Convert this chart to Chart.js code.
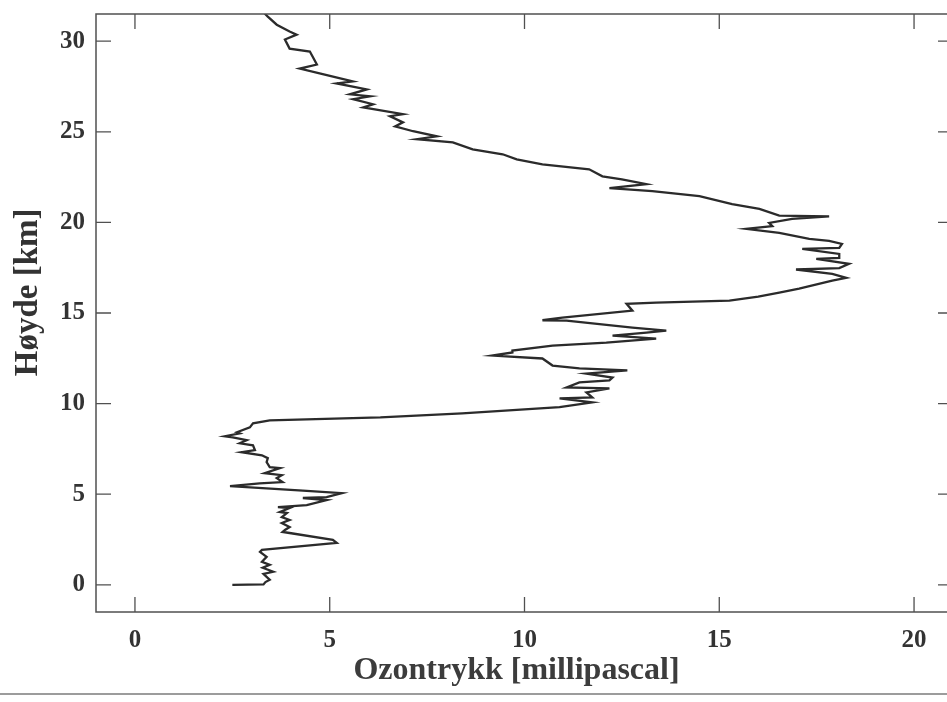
<!DOCTYPE html>
<html>
<head>
<meta charset="utf-8">
<script src="https://cdn.jsdelivr.net/npm/chart.js@4.4.0/dist/chart.umd.min.js"></script>
<style>
	html, body { margin: 0; padding: 0; background: #fff; overflow: hidden; }
	#wrap { position: relative; width: 947px; height: 702px; overflow: hidden; }
	#ozoneChart { position: absolute; left: 0; top: 0; }
	#edge { position: absolute; left: 0; top: 693px; width: 947px; height: 2px; background: #9c9c9c; }
</style>
</head>
<body>
<div id="wrap">
	<canvas id="ozoneChart" width="970" height="702"></canvas>
	<div id="edge"></div>
</div>
<script>
// ozone sounding: altitude (km) and partial pressure (mPa), bottom to top
var altitudeKm = [
	0.00, 0.02, 0.15, 0.28, 0.44, 0.60, 0.72, 0.94, 1.10, 1.27, 1.54, 1.82, 1.93,
	2.31, 2.48, 2.86, 2.92, 3.03, 3.19, 3.41, 3.58, 3.74, 3.96, 4.02, 4.24, 4.29,
	4.40, 4.68, 4.79, 4.84, 5.06, 5.20, 5.45, 5.60, 5.67, 5.89, 6.05, 6.16, 6.44,
	6.49, 6.77, 6.99, 7.15, 7.32, 7.43, 7.70, 7.81, 7.98, 8.14, 8.20, 8.36, 8.42,
	8.69, 8.91, 9.08, 9.24, 9.46, 9.80, 10.07, 10.29, 10.34, 10.62, 10.84, 10.89,
	11.17, 11.28, 11.44, 11.66, 11.83, 11.94, 12.10, 12.49, 12.65, 12.82, 12.93,
	13.20, 13.37, 13.59, 13.75, 13.92, 14.03, 14.19, 14.58, 14.60, 14.74, 15.13,
	15.51, 15.57, 15.68, 15.90, 16.12, 16.34, 16.78, 16.94, 17.16, 17.40, 17.48,
	17.71, 17.99, 18.04, 18.26, 18.54, 18.59, 18.81, 18.98, 19.09, 19.42, 19.64,
	19.80, 19.97, 20.19, 20.33, 20.37, 20.74, 21.01, 21.45, 21.73, 21.89, 22.11,
	22.38, 22.54, 22.93, 23.20, 23.48, 23.76, 24.03, 24.42, 24.59, 24.75, 25.03,
	25.30, 25.52, 25.86, 25.97, 26.35, 26.52, 26.80, 26.96, 27.07, 27.34, 27.67,
	27.78, 28.22, 28.49, 28.71, 29.43, 29.59, 30.09, 30.36, 30.53, 30.91, 31.35,
	31.60
];
var ozoneMpa = [
	2.50, 3.30, 3.35, 3.46, 3.38, 3.30, 3.55, 3.28, 3.46, 3.26, 3.38, 3.21, 3.26,
	5.18, 5.08, 3.97, 3.79, 3.85, 3.97, 3.77, 3.97, 3.77, 3.90, 3.72, 3.97, 3.67,
	4.41, 4.92, 4.31, 4.92, 5.31, 4.31, 2.44, 3.20, 3.79, 3.64, 3.77, 3.33, 3.72,
	3.46, 3.38, 3.41, 3.26, 2.74, 3.08, 3.03, 2.69, 2.87, 2.51, 2.31, 2.69, 2.62,
	2.95, 3.03, 3.46, 6.30, 8.40, 10.90, 11.74, 10.90, 11.74, 11.59, 12.18, 11.08,
	11.41, 12.18, 12.26, 11.59, 12.64, 11.41, 10.72, 10.46, 9.18, 9.69, 9.69,
	10.72, 12.10, 13.38, 12.26, 13.13, 13.64, 12.77, 11.08, 10.46, 10.97, 12.77,
	12.62, 13.38, 15.26, 16.00, 16.54, 17.05, 17.90, 18.26, 17.90, 16.97, 18.08,
	18.33, 17.49, 18.08, 18.08, 17.13, 18.08, 18.15, 17.82, 17.31, 16.54, 15.69,
	16.36, 16.28, 16.87, 17.82, 16.54, 16.03, 15.33, 14.49, 13.28, 12.18, 13.13,
	12.50, 12.00, 11.66, 10.46, 9.80, 9.44, 8.67, 8.16, 7.24, 7.75, 7.14,
	6.68, 6.88, 6.55, 6.88, 5.86, 6.11, 5.60, 6.04, 5.52, 5.95, 5.18,
	5.59, 4.74, 4.23, 4.67, 4.49, 3.97, 3.85, 4.15, 3.97, 3.64, 3.41,
	3.30
];
var xTickValues = [0, 5, 10, 15, 20];
var yTickValues = [0, 5, 10, 15, 20, 25, 30];

var TICK_LEN = 15;
var inkColor = '#333333';

var profile = [];
for (var i = 0; i < altitudeKm.length; i++) {
	profile.push({ x: ozoneMpa[i], y: altitudeKm[i] });
}

// box round the plot with short inward ticks on all four sides
var frameTicks = {
	id: 'frameTicks',
	afterDraw: function(chart) {
		var ctx = chart.ctx;
		var a = chart.chartArea;
		var sx = chart.scales.x;
		var sy = chart.scales.y;
		ctx.save();
		ctx.strokeStyle = '#505050';
		ctx.lineWidth = 1.5;
		ctx.strokeRect(a.left, a.top, a.right - a.left, a.bottom - a.top);
		ctx.lineWidth = 1.3;
		ctx.beginPath();
		sx.ticks.forEach(function(t) {
			var px = sx.getPixelForValue(t.value);
			ctx.moveTo(px, a.bottom);
			ctx.lineTo(px, a.bottom - TICK_LEN);
			ctx.moveTo(px, a.top);
			ctx.lineTo(px, a.top + TICK_LEN);
		});
		sy.ticks.forEach(function(t) {
			var py = sy.getPixelForValue(t.value);
			ctx.moveTo(a.left, py);
			ctx.lineTo(a.left + TICK_LEN, py);
			ctx.moveTo(a.right, py);
			ctx.lineTo(a.right - TICK_LEN, py);
		});
		ctx.stroke();
		ctx.restore();
	}
};

function noEdgePadding(scale) {
	scale.paddingTop = 0;
	scale.paddingBottom = 0;
	scale.paddingLeft = 0;
	scale.paddingRight = 0;
}

var tickFont = { family: 'Liberation Serif', size: 25, weight: 'bold' };

var ctx = document.getElementById('ozoneChart').getContext('2d');
var ozoneChart = new Chart(ctx, {
	type: 'scatter',
	data: {
		datasets: [{
			data: profile,
			showLine: true,
			borderColor: '#2b2b2b',
			borderWidth: 2.3,
			pointRadius: 0,
			tension: 0
		}]
	},
	options: {
		responsive: false,
		animation: false,
		layout: { padding: { top: 14, right: 17, left: 0, bottom: 0 } },
		plugins: {
			legend: { display: false },
			tooltip: { enabled: false }
		},
		scales: {
			x: {
				type: 'linear',
				min: -1,
				max: 21,
				afterBuildTicks: function(scale) {
					scale.ticks = xTickValues.map(function(v) { return { value: v }; });
				},
				afterFit: function(scale) {
					scale.height = 90;
					noEdgePadding(scale);
				},
				grid: { display: false, drawTicks: false },
				border: { display: false },
				ticks: { padding: 14, font: tickFont, color: inkColor, maxRotation: 0 },
				title: {
					display: true,
					text: 'Ozontrykk [millipascal]\u00a0\u00a0',
					color: '#3c3c3c',
					font: { family: 'Liberation Serif', size: 32, weight: 'bold' },
					padding: { top: 0, bottom: 12 }
				}
			},
			y: {
				type: 'linear',
				min: -1.5,
				max: 31.5,
				afterBuildTicks: function(scale) {
					scale.ticks = yTickValues.map(function(v) { return { value: v }; });
				},
				afterFit: function(scale) {
					scale.width = 96;
					noEdgePadding(scale);
				},
				grid: { display: false, drawTicks: false },
				border: { display: false },
				ticks: { padding: 11, font: tickFont, color: inkColor },
				title: {
					display: true,
					text: '\u00a0\u00a0\u00a0\u00a0\u00a0Høyde [km]',
					color: inkColor,
					font: { family: 'Liberation Serif', size: 33, weight: 'bold' },
					padding: { top: 9, bottom: 0 }
				}
			}
		}
	},
	plugins: [frameTicks]
});
</script>
</body>
</html>
